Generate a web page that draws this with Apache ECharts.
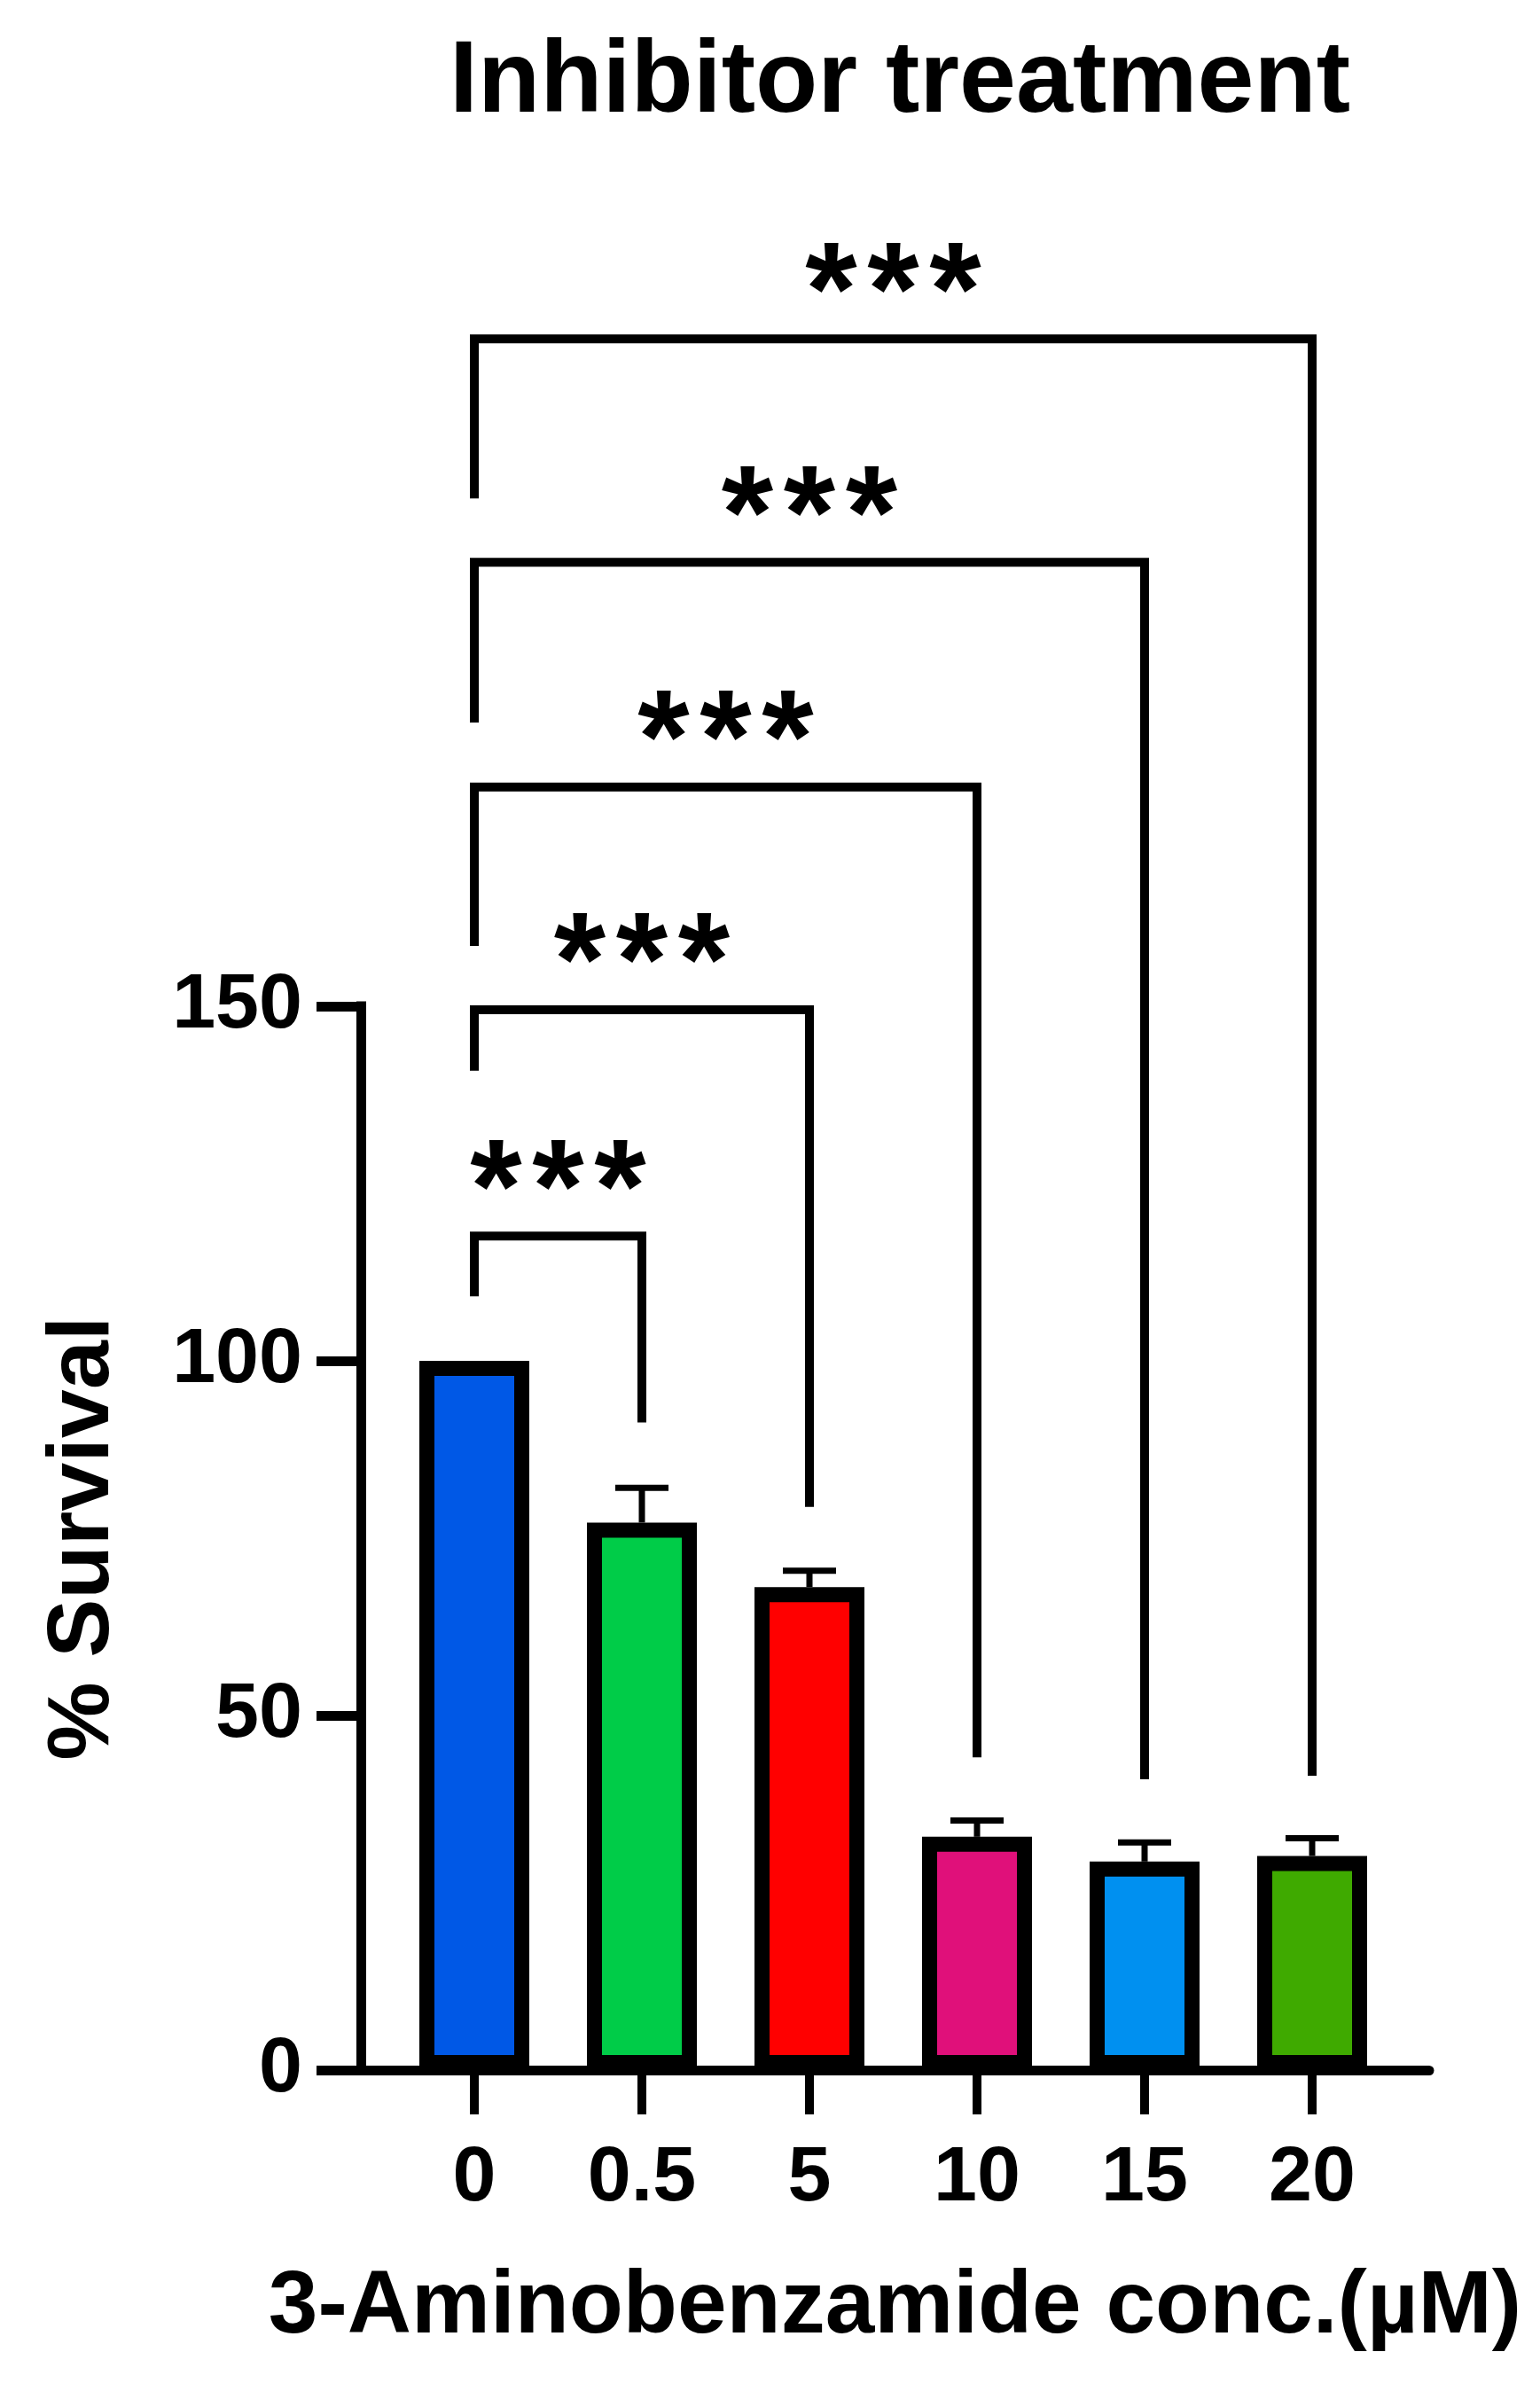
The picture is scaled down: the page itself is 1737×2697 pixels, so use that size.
<!DOCTYPE html>
<html><head><meta charset="utf-8">
<script src="https://cdn.jsdelivr.net/npm/echarts@6/dist/echarts.min.js"></script>
<style>html,body{margin:0;padding:0;background:#fff}#c{width:1737px;height:2697px}</style>
</head><body><div id="c"></div>
<script>
// ---- data ----
const categories = ['0', '0.5', '5', '10', '15', '20'];
const survival = [100, 77.2, 68.1, 32.9, 29.4, 30.2];
const sem = [0, 4.9, 2.3, 2.3, 2.7, 2.5];
const yTickValues = [0, 50, 100, 150];
const compareIdx = [1, 2, 3, 4, 5];
const bracketTop = [117.6, 149.5, 180.9, 212.6, 244.1];
const bracketLeftEnd = [109.1, 140.9, 158.5, 190, 221.6];
const bracketRightEnd = [91.3, 79.4, 44.1, 41, 41.5];
const sigLabels = ['***', '***', '***', '***', '***'];

// ---- styles ----
const barColors = ['#0058E6', '#00CC48', '#FF0000', '#E0107A', '#0090F0', '#3FAA00'];
const FONT = '"Liberation Sans", Arial, sans-serif';
const BAR_W = 124, BAR_B = 17, CAP_W = 60, ERR_LW = 7, BR_LW = 10, STAR_OFF = 46, STAR_PITCH = 70;

const chart = echarts.init(document.getElementById('c'), null, {renderer: 'canvas'});

const barData = categories.map((c, i) => [i, survival[i], sem[i]]);
const bracketData = compareIdx.map((j, k) => [0, j, bracketTop[k], bracketLeftEnd[k], bracketRightEnd[k], k]);

chart.setOption({
  backgroundColor: '#fff',
  animation: false,
  title: {
    text: 'Inhibitor treatment',
    left: 1010, top: 32, textAlign: 'center',
    textStyle: {fontFamily: FONT, fontWeight: 'bold', fontSize: 115, color: '#000'}
  },
  grid: [
    {left: 440.5, right: 162.5, top: 135, bottom: 362},
    {left: 407, right: 125, top: 1135, bottom: 362}
  ],
  xAxis: [
    {
      type: 'category', gridIndex: 0, data: categories,
      axisLine: {show: false},
      axisTick: {show: true, alignWithLabel: true, interval: 0, length: 50, lineStyle: {width: 10, color: '#000'}},
      axisLabel: {interval: 0, margin: 79, fontFamily: FONT, fontWeight: 'bold', fontSize: 88, color: '#000'},
      splitLine: {show: false}
    },
    {
      type: 'value', gridIndex: 1, min: 0, max: 1,
      axisLine: {show: true, lineStyle: {width: 11, color: '#000'}},
      axisTick: {show: false}, axisLabel: {show: false}, splitLine: {show: false},
      name: '3-Aminobenzamide conc.(\u00B5M)', nameLocation: 'middle', nameGap: 218,
      nameTextStyle: {fontFamily: FONT, fontWeight: 'bold', fontSize: 100, color: '#000'}
    }
  ],
  yAxis: [
    {type: 'value', gridIndex: 0, min: 0, max: 275, show: false},
    {
      type: 'value', gridIndex: 1, min: 0, max: 150, interval: 50,
      axisLine: {show: true, lineStyle: {width: 11, color: '#000', cap: 'square'}},
      axisTick: {show: true, length: 50, lineStyle: {width: 11, color: '#000'}},
      axisLabel: {margin: 66, fontFamily: FONT, fontWeight: 'bold', fontSize: 88, color: '#000',
        formatter: v => yTickValues.indexOf(v) >= 0 ? String(v) : ''},
      splitLine: {show: false},
      name: '% Survival', nameLocation: 'middle', nameGap: 263,
      nameTextStyle: {fontFamily: FONT, fontWeight: 'bold', fontSize: 99, color: '#000'}
    }
  ],
  series: [
    {
      type: 'custom', xAxisIndex: 0, yAxisIndex: 0, clip: false, z: 3,
      encode: {x: 0, y: 1},
      data: barData,
      renderItem: function (params, api) {
        const i = api.value(0), v = api.value(1), e = api.value(2);
        const top = api.coord([i, v]);
        const base = api.coord([i, 0]);
        const children = [{
          type: 'rect',
          shape: {x: top[0] - BAR_W / 2 + BAR_B / 2, y: top[1] + BAR_B / 2,
                  width: BAR_W - BAR_B, height: base[1] - top[1] - BAR_B},
          style: {fill: barColors[i], stroke: '#000', lineWidth: BAR_B, lineJoin: 'miter'}
        }];
        if (e > 0) {
          const t = api.coord([i, v + e]);
          children.push({type: 'line', shape: {x1: top[0], y1: top[1], x2: top[0], y2: t[1]},
                         style: {stroke: '#000', lineWidth: ERR_LW}});
          children.push({type: 'line', shape: {x1: top[0] - CAP_W / 2, y1: t[1], x2: top[0] + CAP_W / 2, y2: t[1]},
                         style: {stroke: '#000', lineWidth: ERR_LW}});
        }
        return {type: 'group', children: children};
      }
    },
    {
      type: 'custom', xAxisIndex: 0, yAxisIndex: 0, clip: false, z: 4,
      encode: {x: [0, 1], y: [2, 3, 4]},
      data: bracketData,
      renderItem: function (params, api) {
        const a = api.value(0), b = api.value(1), top = api.value(2), le = api.value(3), re = api.value(4), k = api.value(5);
        const p0 = api.coord([a, le]), p1 = api.coord([a, top]), p2 = api.coord([b, top]), p3 = api.coord([b, re]);
        const children = [
          {type: 'polyline', shape: {points: [p0, p1, p2, p3]},
           style: {stroke: '#000', lineWidth: BR_LW, fill: null, lineJoin: 'miter', lineCap: 'butt'}}
        ];
        const label = sigLabels[k];
        const n = label.length;
        const cx = (p1[0] + p2[0]) / 2;
        for (let s = 0; s < n; s++) {
          children.push({type: 'text', style: {text: label[s], x: cx + (s - (n - 1) / 2) * STAR_PITCH, y: p1[1] - STAR_OFF,
            align: 'center', verticalAlign: 'middle', fontFamily: FONT, fontWeight: 'bold', fontSize: 150, fill: '#000'}});
        }
        return {type: 'group', children: children};
      }
    }
  ]
});
</script>
</body></html>
